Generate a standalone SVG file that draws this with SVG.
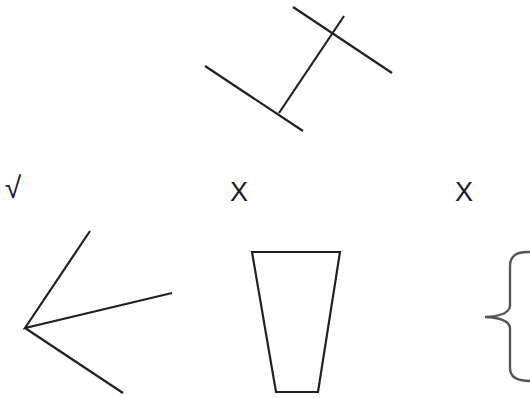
<svg xmlns="http://www.w3.org/2000/svg" width="530" height="398" viewBox="0 0 530 398">
<style>
.ln{stroke:#222;stroke-width:2.2;fill:none;stroke-linecap:butt}
.br{stroke:#555;stroke-width:2.4;fill:none}
.t{font-family:"Liberation Sans","DejaVu Sans",sans-serif;fill:#1c1c30}
</style>
<rect width="530" height="398" fill="#fff"/>
<g id="fig-top">
<line class="ln" x1="293" y1="7" x2="392" y2="73"/>
<line class="ln" x1="205" y1="66" x2="303" y2="131"/>
<line class="ln" x1="344" y1="16" x2="279" y2="113"/>
</g>
<g id="label-check"><text class="t" x="13" y="198" font-size="30" text-anchor="middle">√</text></g>
<g id="label-x1"><text class="t" x="239" y="201" font-size="27" text-anchor="middle">X</text></g>
<g id="label-x2"><text class="t" x="464" y="201" font-size="27" text-anchor="middle">X</text></g>
<g id="fig-arrow">
<polyline class="ln" points="90,231 25,328 172,293"/>
<line class="ln" x1="25" y1="328" x2="123" y2="393"/>
</g>
<g id="fig-trapezoid">
<polygon class="ln" points="252,252 340,252 318,392 276,392"/>
</g>
<g id="fig-brace">
<path class="br" d="M530 252 Q 510 251 510 266 L 510 306 Q 509 316 485 317 Q 509 318 510 328 L 510 368 Q 510 381 530 381"/>
</g>
</svg>
